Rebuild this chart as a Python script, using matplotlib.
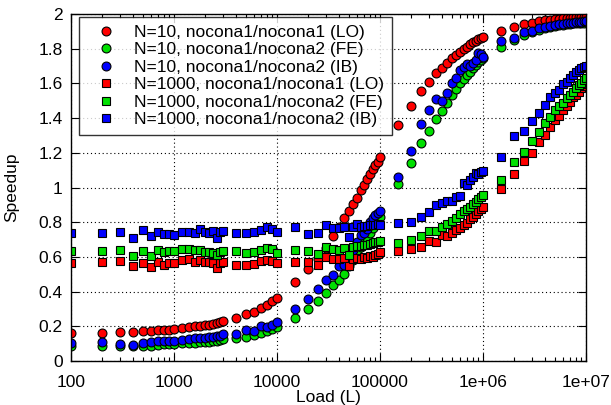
import numpy as np
import matplotlib
matplotlib.use("Agg")
import matplotlib.pyplot as plt
from matplotlib.ticker import FixedLocator, NullFormatter

plt.rcParams["font.family"] = ["Liberation Sans", "DejaVu Sans"]

# message load (x axis), shared by all six series
load = [100, 200, 300, 400, 500, 600, 700, 800, 900, 1000,
        1200, 1400, 1600, 1800, 2000, 2200, 2400, 2600, 2800, 3000,
        4000, 5000, 6000, 7000, 8000, 9000, 10000,
        15000, 20000, 25000, 30000, 35000, 40000, 45000, 50000, 55000,
        60000, 65000, 70000, 75000, 80000, 85000, 90000, 95000, 100000,
        150000, 200000, 250000, 300000, 350000, 400000, 450000, 500000, 550000,
        600000, 650000, 700000, 750000, 800000, 850000, 900000, 950000, 1000000,
        1500000, 2000000, 2500000, 3000000, 3500000, 4000000, 4500000, 5000000, 5500000,
        6000000, 6500000, 7000000, 7500000, 8000000, 8500000, 9000000, 9500000, 10000000]

n10_lo = [0.163, 0.163, 0.169, 0.165, 0.171, 0.175, 0.176, 0.180, 0.181, 0.185,
          0.190, 0.196, 0.200, 0.204, 0.207, 0.210, 0.214, 0.219, 0.225, 0.230,
          0.246, 0.270, 0.284, 0.304, 0.321, 0.344, 0.365,
          0.457, 0.530, 0.590, 0.650, 0.720, 0.770, 0.822, 0.866, 0.905,
          0.938, 0.986, 1.014, 1.047, 1.076, 1.105, 1.130, 1.149, 1.176,
          1.358, 1.470, 1.556, 1.610, 1.658, 1.687, 1.720, 1.744, 1.764,
          1.783, 1.796, 1.812, 1.825, 1.837, 1.844, 1.854, 1.860, 1.866,
          1.903, 1.927, 1.940, 1.948, 1.958, 1.963, 1.967, 1.970, 1.973,
          1.975, 1.977, 1.978, 1.980, 1.981, 1.982, 1.983, 1.984, 1.985]

n10_fe = [0.086, 0.087, 0.087, 0.088, 0.088, 0.088, 0.094, 0.098, 0.099, 0.100,
          0.102, 0.104, 0.106, 0.108, 0.110, 0.112, 0.114, 0.117, 0.121, 0.125,
          0.131, 0.140, 0.152, 0.162, 0.172, 0.183, 0.196,
          0.246, 0.298, 0.346, 0.390, 0.436, 0.467, 0.500, 0.545, 0.585,
          0.620, 0.655, 0.685, 0.710, 0.740, 0.765, 0.790, 0.810, 0.830,
          1.020, 1.139, 1.255, 1.328, 1.393, 1.441, 1.489, 1.533, 1.566,
          1.604, 1.623, 1.648, 1.668, 1.690, 1.706, 1.725, 1.735, 1.745,
          1.812, 1.852, 1.881, 1.894, 1.908, 1.918, 1.925, 1.930, 1.935,
          1.938, 1.941, 1.944, 1.946, 1.948, 1.949, 1.950, 1.951, 1.952]

n10_ib = [0.104, 0.107, 0.098, 0.095, 0.102, 0.111, 0.115, 0.118, 0.117, 0.118,
          0.123, 0.127, 0.130, 0.133, 0.135, 0.137, 0.140, 0.142, 0.145, 0.153,
          0.158, 0.179, 0.171, 0.204, 0.198, 0.209, 0.226,
          0.298, 0.356, 0.413, 0.467, 0.498, 0.546, 0.555, 0.600, 0.640,
          0.685, 0.726, 0.735, 0.760, 0.800, 0.822, 0.840, 0.851, 0.862,
          1.062, 1.212, 1.366, 1.447, 1.508, 1.500, 1.543, 1.604, 1.629,
          1.677, 1.693, 1.712, 1.700, 1.719, 1.735, 1.773, 1.767, 1.750,
          1.842, 1.862, 1.896, 1.900, 1.919, 1.927, 1.933, 1.937, 1.940,
          1.943, 1.946, 1.948, 1.950, 1.952, 1.954, 1.955, 1.957, 1.958]

n1000_lo = [0.567, 0.573, 0.578, 0.546, 0.562, 0.544, 0.571, 0.552, 0.567, 0.566,
            0.584, 0.586, 0.571, 0.580, 0.573, 0.569, 0.565, 0.538, 0.567, 0.571,
            0.551, 0.555, 0.557, 0.578, 0.580, 0.576, 0.563,
            0.573, 0.573, 0.553, 0.597, 0.586, 0.588, 0.592, 0.548, 0.588,
            0.596, 0.588, 0.601, 0.596, 0.607, 0.601, 0.611, 0.619, 0.627,
            0.636, 0.644, 0.655, 0.694, 0.684, 0.726, 0.720, 0.740, 0.755,
            0.765, 0.784, 0.797, 0.816, 0.832, 0.847, 0.865, 0.878, 0.890,
            0.991, 1.080, 1.155, 1.201, 1.264, 1.303, 1.347, 1.389, 1.412,
            1.447, 1.470, 1.495, 1.520, 1.533, 1.552, 1.572, 1.585, 1.597]

n1000_fe = [0.632, 0.632, 0.637, 0.603, 0.635, 0.606, 0.638, 0.627, 0.636, 0.634,
            0.645, 0.648, 0.640, 0.638, 0.630, 0.626, 0.625, 0.611, 0.630, 0.635,
            0.632, 0.621, 0.630, 0.638, 0.654, 0.645, 0.625,
            0.640, 0.634, 0.617, 0.659, 0.644, 0.640, 0.649, 0.611, 0.659,
            0.665, 0.660, 0.669, 0.668, 0.672, 0.678, 0.684, 0.688, 0.692,
            0.678, 0.697, 0.720, 0.751, 0.751, 0.774, 0.790, 0.805, 0.825,
            0.845, 0.865, 0.874, 0.886, 0.905, 0.918, 0.932, 0.945, 0.955,
            1.045, 1.149, 1.207, 1.268, 1.322, 1.370, 1.408, 1.447, 1.470,
            1.489, 1.514, 1.533, 1.552, 1.572, 1.591, 1.604, 1.620, 1.633]

n1000_ib = [0.736, 0.736, 0.741, 0.707, 0.755, 0.720, 0.745, 0.733, 0.731, 0.729,
            0.742, 0.744, 0.736, 0.761, 0.745, 0.736, 0.749, 0.707, 0.745, 0.750,
            0.736, 0.736, 0.745, 0.757, 0.772, 0.763, 0.745,
            0.774, 0.732, 0.740, 0.784, 0.768, 0.768, 0.774, 0.715, 0.774,
            0.788, 0.774, 0.776, 0.780, 0.784, 0.782, 0.784, 0.788, 0.786,
            0.793, 0.803, 0.832, 0.861, 0.899, 0.909, 0.924, 0.924, 0.947,
            0.951, 1.024, 1.014, 1.043, 1.060, 1.085, 1.075, 1.090, 1.097,
            1.178, 1.297, 1.328, 1.385, 1.427, 1.476, 1.520, 1.547, 1.562,
            1.597, 1.610, 1.629, 1.648, 1.668, 1.677, 1.687, 1.696, 1.700]

labels = ["N=10, nocona1/nocona1 (LO)",
          "N=10, nocona1/nocona2 (FE)",
          "N=10, nocona1/nocona2 (IB)",
          "N=1000, nocona1/nocona1 (LO)",
          "N=1000, nocona1/nocona2 (FE)",
          "N=1000, nocona1/nocona2 (IB)"]
series = [n10_lo, n10_fe, n10_ib, n1000_lo, n1000_fe, n1000_ib]
colors = ["#ff0000", "#00e000", "#0000ff"] * 2
markers = ["o", "o", "o", "s", "s", "s"]

xticks = [100, 1000, 10000, 100000, 1000000, 10000000]
xticklabels = ["100", "1000", "10000", "100000", "1e+06", "1e+07"]
yticks = [0, 0.2, 0.4, 0.6, 0.8, 1, 1.2, 1.4, 1.6, 1.8, 2]
yticklabels = ["0", "0.2", "0.4", "0.6", "0.8", "1", "1.2", "1.4", "1.6", "1.8", "2"]

fig = plt.figure(figsize=(6.11, 4.05), dpi=100)
ax = fig.add_axes([71 / 611, 44 / 405, 515 / 611, 347 / 405])

for ys, c, m, lab in zip(series, colors, markers, labels):
    ms = 6.4 if m == "o" else 5.8
    ax.plot(load, ys, linestyle="none", marker=m, markersize=ms,
            markerfacecolor=c, markeredgecolor="black", markeredgewidth=0.8,
            label=lab)

ax.set_xscale("log")
ax.set_xlim(100, 1e7)
ax.set_ylim(0, 2)
ax.set_xticks(xticks)
ax.set_xticklabels(xticklabels)
ax.xaxis.set_minor_locator(FixedLocator(
    [k * 10.0 ** e for e in range(2, 7) for k in range(2, 10)]))
ax.xaxis.set_minor_formatter(NullFormatter())
ax.set_yticks(yticks)
ax.set_yticklabels(yticklabels)

ax.tick_params(which="both", direction="in", top=True, right=True,
               labelsize=12.5, width=0.8)
ax.tick_params(which="major", length=6)
ax.tick_params(which="minor", length=3)
ax.tick_params(axis="x", which="major", pad=10)
ax.tick_params(axis="y", which="major", pad=6)
ax.grid(True, which="major", color="black", linestyle=(0, (1, 2.5)),
        linewidth=0.8)
for sp in ax.spines.values():
    sp.set_linewidth(1.0)

ax.set_xlabel("Load (L)", fontsize=12.5, labelpad=0)
ax.set_ylabel("Speedup", fontsize=12.5, labelpad=14)

leg = ax.legend(loc="upper left", bbox_to_anchor=(79 / 611, 1 - 17 / 405),
                bbox_transform=fig.transFigure, borderaxespad=0,
                fontsize=12.5, frameon=True, fancybox=False,
                handlelength=2.2, handletextpad=0.5, labelspacing=0.13,
                borderpad=0.45, markerscale=1.0)
leg.get_frame().set_edgecolor("black")
leg.get_frame().set_linewidth(1.0)

fig.savefig("out.png", dpi=100)
